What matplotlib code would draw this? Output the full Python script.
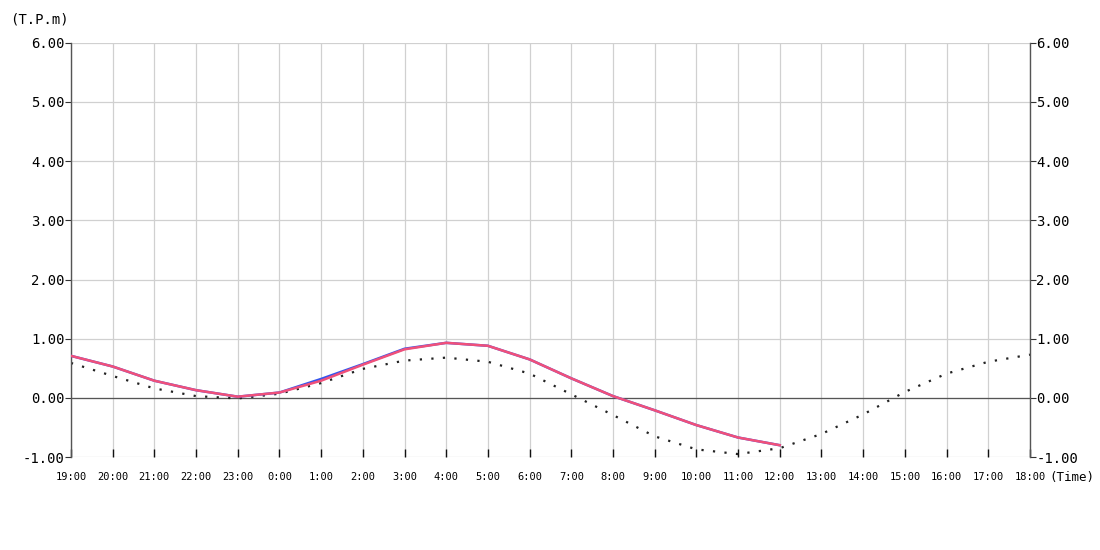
import matplotlib
matplotlib.use("Agg")
import matplotlib.pyplot as plt
import numpy as np

plt.rcParams["font.family"] = ["DejaVu Sans Mono"]

# 時刻ラベル (19:00 -> 18:00)
hours = ["19:00", "20:00", "21:00", "22:00", "23:00", "0:00", "1:00", "2:00",
         "3:00", "4:00", "5:00", "6:00", "7:00", "8:00", "9:00", "10:00",
         "11:00", "12:00", "13:00", "14:00", "15:00", "16:00", "17:00", "18:00"]

# 天文潮位 (点線)
tide_astro = [0.59, 0.37, 0.16, 0.03, -0.01, 0.07, 0.25, 0.49, 0.63, 0.68,
              0.61, 0.41, 0.06, -0.29, -0.65, -0.87, -0.95, -0.85, -0.61,
              -0.28, 0.10, 0.41, 0.61, 0.73]

# 実測潮位 (青) / 補正値 (赤) — 12:00まで
tide_blue = [0.71, 0.53, 0.29, 0.13, 0.02, 0.09, 0.32, 0.57, 0.83, 0.93,
             0.88, 0.65, 0.33, 0.03, -0.21, -0.46, -0.67, -0.80]
tide_red = [0.71, 0.53, 0.29, 0.13, 0.02, 0.09, 0.29, 0.56, 0.82, 0.93,
            0.88, 0.65, 0.33, 0.03, -0.21, -0.46, -0.67, -0.80]

yticks = [-1, 0, 1, 2, 3, 4, 5, 6]

x_all = np.arange(len(hours))
x_obs = np.arange(len(tide_red))

fig = plt.figure(figsize=(11, 5.5), dpi=100)
ax = fig.add_axes([0.0645, 0.169, 0.8718, 0.7532])

ax.set_xlim(0, len(hours) - 1)
ax.set_ylim(-1, 6)

# grid
for xv in x_all:
    ax.axvline(xv, color="#d0d0d0", lw=0.9, zorder=0)
for yv in yticks:
    ax.axhline(yv, color="#d0d0d0", lw=0.9, zorder=0)
ax.axhline(0, color="#555555", lw=0.9, zorder=1)

ax.plot(x_all, tide_astro, color="#222222", lw=1.6, linestyle=(0, (1, 4.2)), zorder=2)
ax.plot(x_obs, tide_blue, color="#3355ee", lw=1.8, zorder=3)
ax.plot(x_obs, tide_red, color="#f0507a", lw=1.8, zorder=4)

for s in ["top", "bottom"]:
    ax.spines[s].set_visible(False)
for s in ["left", "right"]:
    ax.spines[s].set_color("#555555")
    ax.spines[s].set_linewidth(1.0)

ax.set_yticks(yticks)
ax.set_yticklabels([f"{v:.2f}" for v in yticks])
ax.tick_params(axis="y", which="both", direction="out", length=4, width=0.8,
               color="#333333", labelsize=10, pad=0.5, left=True, right=True,
               labelleft=True, labelright=True)

ax.set_xticks(x_all)
ax.set_xticklabels(hours)
ax.tick_params(axis="x", direction="in", length=6, width=1.0, color="#111111",
               labelsize=7.5, pad=11)

fig.text(0.009, 0.965, "(T.P.m)", fontsize=10, ha="left", va="center")
fig.text(0.954, 0.131, "(Time)", fontsize=9, ha="left", va="center")

fig.savefig("out.png", dpi=100)
